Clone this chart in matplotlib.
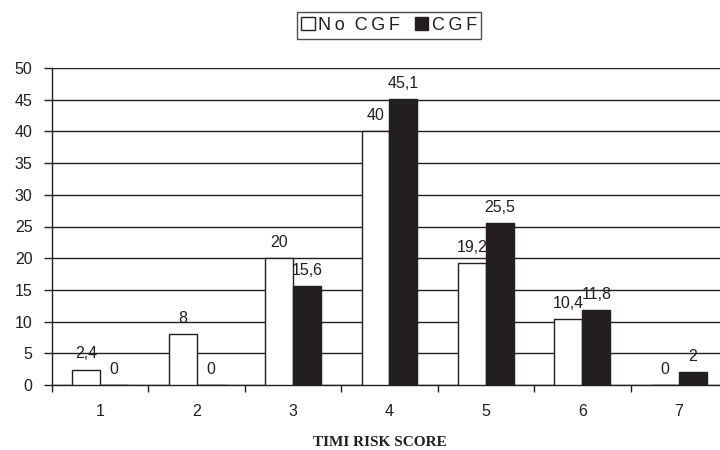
import matplotlib
matplotlib.use("Agg")
import matplotlib.pyplot as plt
import numpy as np
from matplotlib.patches import Patch

categories = ["1", "2", "3", "4", "5", "6", "7"]
no_cgf = [2.4, 8, 20, 40, 19.2, 10.4, 0]
cgf = [0, 0, 15.6, 45.1, 25.5, 11.8, 2]
series_names = ["N\u2009o  C\u2009G\u2009F", "C\u2009G\u2009F"]
yticks = [0, 5, 10, 15, 20, 25, 30, 35, 40, 45, 50]

plt.rcParams['font.family'] = ['Liberation Sans', 'DejaVu Sans']

fig = plt.figure(figsize=(7.2, 4.5), dpi=100)
# axes extends slightly past right edge like the reference (cropped)
ax = fig.add_axes([52/720, 1 - 385/450, 675/720, (385 - 68)/450])

x = np.arange(len(categories))
w = 0.29
dark = "#231f20"
b1 = ax.bar(x - w/2, no_cgf, w, color="white", edgecolor=dark, linewidth=1.0, zorder=3)
b2 = ax.bar(x + w/2, cgf, w, color=dark, edgecolor=dark, linewidth=1.0, zorder=3)

def fmt(v):
    return ("%g" % v).replace(".", ",")

for bars, vals in ((b1, no_cgf), (b2, cgf)):
    for r, v in zip(bars, vals):
        ax.annotate(fmt(v), (r.get_x() + r.get_width()/2, v), xytext=(0, 6),
                    textcoords="offset points", ha="center", va="bottom",
                    fontsize=11.5, color=dark, zorder=4)

ax.set_xlim(-0.5, len(categories) - 0.5)
ax.set_ylim(0, 50)
ax.set_yticks(yticks)
ax.set_yticklabels([str(t) for t in yticks], fontsize=11.5, color=dark)
ax.yaxis.grid(True, color=dark, linewidth=1.0, zorder=0)
ax.set_axisbelow(True)

ax.set_xticks(x)
ax.set_xticklabels(categories, fontsize=11.5, color=dark)
ax.tick_params(axis="x", which="major", length=0, pad=14)
ax.set_xticks(np.arange(-0.5, len(categories) + 0.5, 1), minor=True)
ax.tick_params(axis="x", which="minor", length=5, width=1, color=dark, direction="out")
ax.tick_params(axis="y", length=6, width=1, color=dark, direction="out", pad=8)

for s in ["top", "right"]:
    ax.spines[s].set_visible(False)
for s in ["left", "bottom"]:
    ax.spines[s].set_color(dark)
    ax.spines[s].set_linewidth(1.0)

fig.text(380/720, 1 - 443/450, "TIMI RISK SCORE", fontsize=11, fontweight="bold",
         family=["Liberation Serif", "DejaVu Serif"], color=dark,
         ha="center", va="center")

handles = [Patch(facecolor="white", edgecolor=dark, linewidth=1.0),
           Patch(facecolor=dark, edgecolor=dark, linewidth=1.0)]
leg = fig.legend(handles, series_names, loc="center", bbox_to_anchor=(389/720, 1 - 25.5/450),
                 ncol=2, frameon=True, fancybox=False, edgecolor=dark,
                 fontsize=13, handlelength=0.75, handleheight=0.75, handletextpad=0.2,
                 columnspacing=0.8, borderpad=0.25, borderaxespad=0)
leg.get_frame().set_linewidth(1.0)
for t in leg.get_texts():
    t.set_color(dark)

fig.savefig("out.png", dpi=100)
